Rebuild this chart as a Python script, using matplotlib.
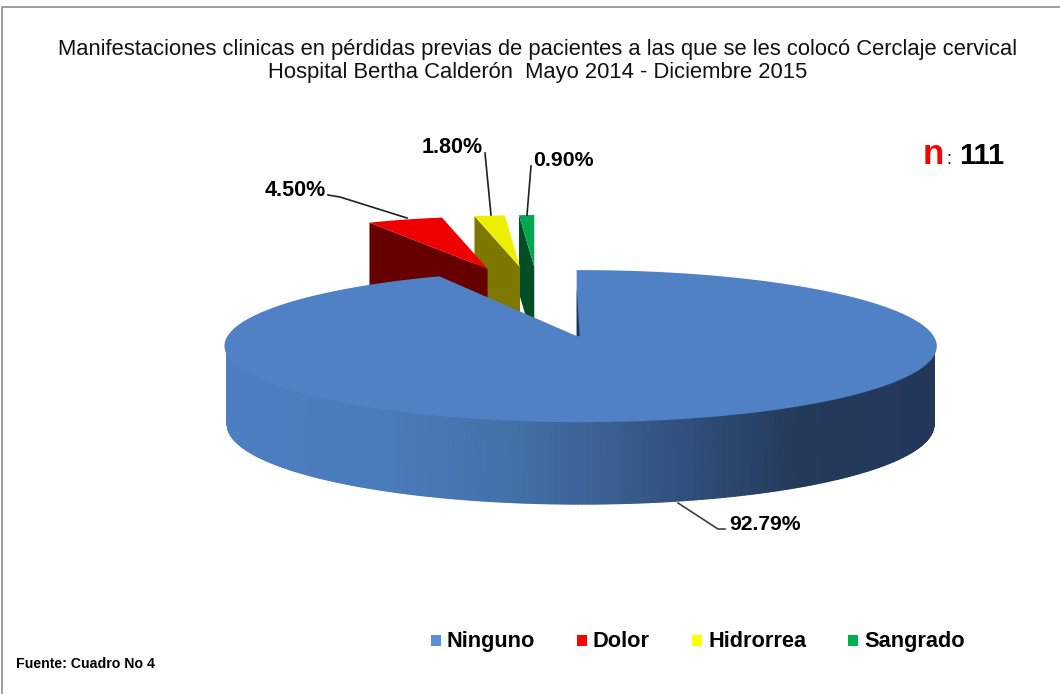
import numpy as np
import matplotlib
matplotlib.use('Agg')
import matplotlib.pyplot as plt
from matplotlib.colors import LinearSegmentedColormap
from matplotlib.patches import Polygon, Rectangle

plt.rcParams['font.family'] = ['Liberation Sans', 'DejaVu Sans']

categories = ['Ninguno', 'Dolor', 'Hidrorrea', 'Sangrado']
percentages = [92.79, 4.50, 1.80, 0.90]
value_labels = ['92.79%', '4.50%', '1.80%', '0.90%']
total_n = '111'
title_lines = ['Manifestaciones clinicas en pérdidas previas de pacientes a las que se les colocó Cerclaje cervical',
               'Hospital Bertha Calderón  Mayo 2014 - Diciembre 2015']
source_note = 'Fuente: Cuadro No 4'

top_colors = ['#4f81c4', '#ee0000', '#eeee00', '#00a651']
wall_colors = ['#2a4568', '#660000', '#7d7800', '#004d26']
legend_colors = ['#5b8fd6', '#ff0000', '#ffff00', '#00b050']
legend_x = [431, 577, 692, 848]

# pie geometry in pixels, the explode direction comes from each slice's middle angle
center_x, center_y = 539, 302
explode_x, explode_y = 168, 35
radius_x, radius_y = 353, 74.7
persp_y, persp_x = 0.132, -0.011
depth = 78
small_radius = 0.766
small_spread = 1.1


def project(apex, r, theta):
    # theta is clockwise from 12 o'clock
    X = r * np.sin(theta)
    Y = r * np.cos(theta)
    w = 1 + persp_y * Y + persp_x * X
    return apex[0] + radius_x * X / w, apex[1] - radius_y * Y / w


fig = plt.figure(figsize=(10.6, 6.94), dpi=100)
ax = fig.add_axes([0, 0, 1, 1])
ax.set_xlim(0, 1060)
ax.set_ylim(694, 0)
ax.axis('off')

# frame around the picture
ax.plot([2, 2, 1060], [694, 7, 7], color='#8c8c8c', lw=1.2)

fractions = np.array(percentages) / sum(percentages)
edges = np.concatenate([[0], np.cumsum(fractions)]) * 2 * np.pi
# first slice runs from 12 o'clock clockwise, the others fill the gap after it
apexes = []
for i in range(len(percentages)):
    mid = (edges[i] + edges[i + 1]) / 2
    apexes.append((center_x + explode_x * np.sin(mid), center_y - explode_y * np.cos(mid)))

# small slices back to front
for i in [3, 2, 1]:
    apex = apexes[i]
    t0 = 2 * np.pi - (2 * np.pi - edges[i]) * small_spread
    t1 = 2 * np.pi - (2 * np.pi - edges[i + 1]) * small_spread
    thetas = np.linspace(t0, t1, 20)
    px, py = project(apex, small_radius, thetas)
    wall = [(px[0], py[0]), (apex[0], apex[1]), (apex[0], apex[1] + depth), (px[0], py[0] + depth)]
    ax.add_patch(Polygon(wall, closed=True, fc=wall_colors[i], ec='none', zorder=2))
    top = np.column_stack([np.append(px, apex[0]), np.append(py, apex[1])])
    ax.add_patch(Polygon(top, closed=True, fc=top_colors[i], ec='none', zorder=2.5))

# big slice: outer wall as a gradient mesh, its upper edge tucked under the top face
apex = apexes[0]
thetas = np.radians(np.linspace(80, 280, 400))
rx, ry = project(apex, 0.992, thetas)
full_x, full_y = project(apex, 1, thetas)
bx = apex[0] + (full_x - apex[0]) * 0.992
by = full_y + depth - 4 * np.cos(thetas)
grad_x0, grad_x1 = 226, 938
grad_stops = [(226, '#4c7ec2'), (390, '#4a7bbb'), (515, '#4370a8'), (615, '#3a5e90'),
              (700, '#2f4d78'), (800, '#243a5a'), (938, '#22375a')]
rim_cmap = LinearSegmentedColormap.from_list(
    'rim', [((x - grad_x0) / (grad_x1 - grad_x0), c) for x, c in grad_stops])
mesh_x = np.vstack([rx, bx])
mesh_y = np.vstack([ry, by])
ax.pcolormesh(mesh_x, mesh_y, mesh_x, shading='gouraud', cmap=rim_cmap,
              vmin=grad_x0, vmax=grad_x1, zorder=3)

thetas = np.linspace(edges[0], edges[1], 400)
px, py = project(apex, 1, thetas)
top = np.column_stack([np.append(px, apex[0]), np.append(py, apex[1])])
ax.add_patch(Polygon(top, closed=True, fc=top_colors[0], ec='none', zorder=3.5))

# thin bit of the cut wall beside the apex
sx, sy = project(apex, 1, edges[0])
ax.add_patch(Polygon([(sx, sy + 18), (apex[0] + 3, apex[1]), (apex[0], apex[1])], closed=True,
                     fc='#1f3552', ec='none', zorder=3.6))

# leader lines and value labels
ax.plot([678, 718, 725], [503, 529, 529], color='#404040', lw=1.2, zorder=4)
ax.plot([328, 340, 407], [195, 197, 218], color='#202020', lw=1.2, zorder=4)
ax.plot([485, 491], [153, 215], color='#202020', lw=1.2, zorder=4)
ax.plot([531, 527], [166, 215], color='#202020', lw=1.2, zorder=4)
ax.text(729, 524, value_labels[0], fontsize=15.2, fontweight='bold', va='center', ha='left')
ax.text(265, 190, value_labels[1], fontsize=15.5, fontweight='bold', va='center', ha='left')
ax.text(422, 147, value_labels[2], fontsize=15.5, fontweight='bold', va='center', ha='left')
ax.text(533, 160, value_labels[3], fontsize=15.3, fontweight='bold', va='center', ha='left')

# n annotation
ax.text(923, 164, 'n', fontsize=25, fontweight='bold', color='#ff0000', ha='left', va='baseline')
ax.text(946, 164, ':', fontsize=13, ha='left', va='baseline')
ax.text(959, 164, total_n, fontsize=21, fontweight='bold', ha='left', va='baseline')

ax.text(537.5, 49, title_lines[0], fontsize=15.8, ha='center', va='center', color='#111111')
ax.text(537.5, 72, title_lines[1], fontsize=15.8, ha='center', va='center', color='#111111')
ax.text(16, 664, source_note, fontsize=10.2, fontweight='bold', ha='left', va='center')

# legend row, keeps all names on one baseline
for name, color, x in zip(categories, legend_colors, legend_x):
    ax.add_patch(Rectangle((x, 635), 10, 11, fc=color, ec='none'))
    ax.text(x + 16, 647, name, fontsize=15.7, fontweight='bold', ha='left', va='baseline')

fig.savefig('out.png', dpi=100)
